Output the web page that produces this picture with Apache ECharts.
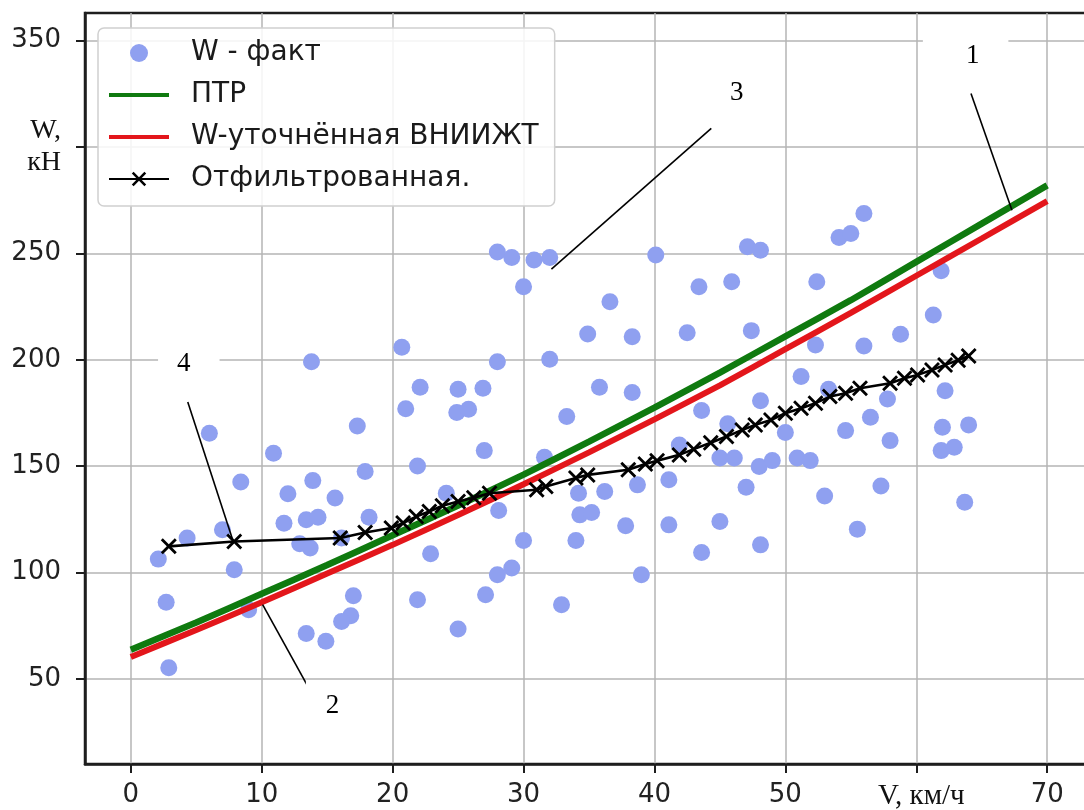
<!DOCTYPE html>
<html>
<head>
<meta charset="utf-8">
<script src="https://cdn.jsdelivr.net/npm/echarts@6/dist/echarts.min.js"></script>
<style>
  html, body { margin: 0; padding: 0; background: #ffffff; }
  #chart { width: 1084px; height: 810px; }
</style>
</head>
<body>
<div id="chart"></div>
<script>
// Measured resistance W (кН) against speed V (км/ч)
const speedFact = [
  13.8, 20.7, 6.0, 17.3, 10.9, 8.4, 13.9, 17.9, 12.0, 15.6, 11.7, 13.4, 14.3, 18.2, 7.0,
  4.3, 2.1, 7.9, 12.9, 13.7, 16.1, 2.7, 9.0, 17.0, 16.8, 16.1, 13.4, 14.9, 2.9,
  28.0, 29.1, 30.8, 32.0, 40.1, 30.0, 36.6, 43.4, 34.9, 38.3, 42.5, 28.0, 32.0, 22.1,
  25.0, 26.9, 21.0, 24.9, 25.8, 33.3, 35.8, 38.3, 43.6, 27.0, 21.9, 31.6, 24.1, 28.1,
  34.2, 36.2, 38.7, 41.1, 34.3, 35.2, 37.8, 41.1, 30.0, 34.0, 43.6, 22.9, 28.0, 29.1,
  39.0, 21.9, 27.1, 32.9, 25.0,
  56.0, 54.1, 55.0, 47.1, 48.1, 45.9, 52.4, 61.9, 47.4, 61.3, 52.3, 56.0, 58.8, 51.2,
  53.3, 48.1, 57.8, 62.2, 45.6, 50.0, 56.5, 54.6, 58.0, 62.0, 64.0, 61.9, 62.9, 41.9,
  45.0, 46.1, 48.0, 49.0, 50.9, 51.9, 47.0, 53.0, 57.3, 63.7, 45.0, 55.5, 48.1
];
const forceFact = [
  199.1, 205.9, 165.5, 168.9, 156.1, 142.5, 143.2, 147.5, 137.0, 135.0, 123.2, 124.8, 126.0, 126.0, 120.1,
  116.2, 106.3, 101.3, 113.5, 111.5, 116.2, 86.0, 82.5, 89.1, 79.7, 77.0, 71.3, 67.7, 55.2,
  250.7, 248.1, 246.9, 248.1, 249.2, 234.3, 227.3, 234.3, 212.1, 210.8, 212.7, 199.1, 200.2, 187.1,
  186.2, 186.6, 177.0, 175.2, 176.8, 173.3, 187.1, 184.6, 176.2, 157.3, 150.1, 154.2, 137.3, 129.2,
  137.3, 138.1, 141.2, 143.6, 127.1, 128.2, 122.0, 122.4, 115.1, 115.1, 109.4, 108.8, 99.0, 102.1,
  99.0, 87.2, 89.6, 84.9, 73.5,
  268.8, 257.5, 259.4, 253.1, 251.5, 236.7, 236.7, 241.8, 213.7, 221.0, 207.0, 206.5, 212.0, 192.1,
  186.2, 180.7, 181.6, 185.4, 169.9, 165.8, 173.0, 166.7, 162.0, 168.3, 169.4, 157.3, 158.9, 159.9,
  153.8, 153.8, 149.8, 152.6, 153.8, 152.6, 140.1, 136.0, 140.7, 133.0, 124.0, 120.4, 113.0
];

// Calculated curves
const speedCurve = [0, 5, 10, 15, 20, 25, 30, 35, 40, 45, 50, 55, 60, 65, 70];
const forcePTR = [63.7, 76.5, 90.0, 103.5, 117.5, 131.5, 146.0, 161.5, 177.5, 194.0, 211.0, 228.0, 246.0, 264.0, 282.0];
const forceVNIIZhT = [60.3, 73.0, 86.0, 99.5, 113.0, 127.0, 141.5, 156.5, 172.0, 188.0, 205.0, 222.0, 239.5, 257.0, 274.6];

// Filtered series
const speedFiltered = [
  2.9, 7.9, 16.0, 17.9, 19.9, 20.8, 21.8, 22.8, 23.8, 25.0, 26.2, 27.4, 31.0, 31.7, 34.0,
  34.9, 38.0, 39.3, 40.2, 41.9, 43.0, 44.3, 45.5, 46.7, 47.7, 48.9, 50.0, 51.2, 52.3, 53.4,
  54.6, 55.7, 58.0, 59.1, 60.1, 61.2, 62.2, 63.2, 64.0
];
const forceFiltered = [
  112.3, 114.6, 116.2, 118.8, 120.9, 123.3, 126.3, 128.7, 131.4, 133.4, 135.2, 137.3, 138.9, 140.4, 144.4,
  145.9, 148.3, 151.0, 152.5, 155.3, 158.0, 161.0, 163.9, 167.0, 169.4, 171.7, 174.9, 177.2, 179.6, 182.7,
  184.3, 186.6, 189.0, 191.3, 192.9, 195.2, 197.6, 199.8, 201.8
];

// Axis ticks and names
const xTicks = [0, 10, 20, 30, 40, 50, 60, 70];
const yTicks = [50, 100, 150, 200, 250, 300, 350];
const xName = 'V, км/ч';
const yName = ['W,', 'кН'];
const seriesNames = ['W - факт', 'ПТР', 'W-уточнённая ВНИИЖТ', 'Отфильтрованная.'];

// Numbered callouts: label centre, leader line start and end (in V, W units)
const calloutText = ['1', '3', '4', '2'];
const calloutLabel = [[63.77, 342.6], [46.28, 325.5], [4.43, 198.0], [15.72, 37.5]];
const calloutFrom = [[64.18, 325.2], [44.34, 308.8], [4.35, 180.2], [13.66, 45.0]];
const calloutTo = [[67.31, 270.3], [32.13, 242.6], [7.78, 115.4], [10.07, 84.9]];
const calloutPad = [[8, 29, 4, 43], [2, 2, 2, 2], [4, 29, 4, 19], [18, 28, 4, 20]];

const zip = (a, b) => a.map((v, i) => [v, b[i]]);

const crossPath = 'path://M2.5,0L10,7.5L17.5,0L20,2.5L12.5,10L20,17.5L17.5,20L10,12.5L2.5,20L0,17.5L7.5,10L0,2.5Z';
const barIcon = 'path://M0,0H60V4H0Z';
const tickFont = 'DejaVu Sans';
const serifFont = 'Liberation Serif';
const green = '#0f7a0f';
const red = '#e3161b';

const chart = echarts.init(document.getElementById('chart'), null, { renderer: 'canvas' });

chart.setOption({
  animation: false,
  backgroundColor: '#ffffff',
  grid: {
    left: 85, right: -9, top: 13, bottom: 46,
    show: true, borderColor: '#1e1e1e', borderWidth: 2.5,
    outerBoundsMode: 'none', containLabel: false
  },
  legend: {
    orient: 'vertical',
    left: 98, top: 28,
    data: [
      { name: seriesNames[0], icon: 'circle' },
      { name: seriesNames[1], icon: barIcon },
      { name: seriesNames[2], icon: barIcon },
      { name: seriesNames[3] }
    ],
    itemWidth: 60, itemHeight: 18, itemGap: 14,
    padding: [11, 16, 13, 10],
    backgroundColor: 'rgba(255,255,255,0.85)',
    borderColor: '#d0d0d0', borderWidth: 1.5, borderRadius: 6,
    textStyle: { fontFamily: tickFont, fontSize: 28, color: '#1a1a1a', lineHeight: 28, padding: [0, 0, 0, 17] }
  },
  xAxis: {
    type: 'value', min: -3.5, max: 73.5, splitNumber: 8,
    axisLine: { show: true, onZero: false, lineStyle: { color: '#1e1e1e', width: 2.5 } },
    axisTick: { show: true, length: 9, customValues: xTicks, lineStyle: { color: '#1e1e1e', width: 2 } },
    axisLabel: {
      customValues: xTicks, margin: 18,
      fontFamily: tickFont, fontSize: 26, color: '#222',
      formatter: v => v === 60 ? '{u|' + xName + '}' : String(v),
      rich: { u: { fontFamily: serifFont, fontSize: 29, color: '#111', padding: [0, 0, 0, 10] } }
    },
    splitLine: { show: true, lineStyle: { color: '#b4b4b4', width: 1.5 } }
  },
  yAxis: {
    type: 'value', min: 10, max: 363, splitNumber: 7,
    axisLine: { show: true, onZero: false, lineStyle: { color: '#1e1e1e', width: 2.5 } },
    axisTick: { show: true, length: 9, customValues: yTicks, lineStyle: { color: '#1e1e1e', width: 2 } },
    axisLabel: {
      customValues: yTicks, margin: 24,
      fontFamily: tickFont, fontSize: 26, color: '#222',
      formatter: v => v === 300 ? '{u|' + yName[0] + '}\n{u|' + yName[1] + '}' : String(v),
      rich: { u: { fontFamily: serifFont, fontSize: 28, color: '#111', lineHeight: 32, align: 'right' } }
    },
    splitLine: { show: true, lineStyle: { color: '#b4b4b4', width: 1.5 } }
  },
  series: [
    {
      name: seriesNames[0], type: 'scatter',
      data: zip(speedFact, forceFact),
      symbol: 'circle', symbolSize: 17,
      itemStyle: { color: '#8fa0f0', opacity: 1 }
    },
    {
      name: seriesNames[1], type: 'line',
      data: zip(speedCurve, forcePTR),
      symbol: 'none', smooth: 0.2,
      lineStyle: { color: green, width: 6.5 },
      itemStyle: { color: green }
    },
    {
      name: seriesNames[2], type: 'line',
      data: zip(speedCurve, forceVNIIZhT),
      symbol: 'none', smooth: 0.2,
      lineStyle: { color: red, width: 6 },
      itemStyle: { color: red }
    },
    {
      name: seriesNames[3], type: 'line',
      data: zip(speedFiltered, forceFiltered),
      symbol: crossPath, symbolSize: 16, showSymbol: true,
      lineStyle: { color: '#000', width: 2.6 },
      itemStyle: { color: '#000' }
    }
  ]
});

// Leader lines and numbers for the callouts
const toPx = p => chart.convertToPixel({ gridIndex: 0 }, p);
const elements = [];
calloutText.forEach((t, i) => {
  const a = toPx(calloutFrom[i]);
  const b = toPx(calloutTo[i]);
  const c = toPx(calloutLabel[i]);
  elements.push({
    type: 'line', z: 100,
    shape: { x1: a[0], y1: a[1], x2: b[0], y2: b[1] },
    style: { stroke: '#000', lineWidth: 1.6 }
  });
  elements.push({
    type: 'text', z: 101, x: c[0], y: c[1],
    style: {
      text: t, fontFamily: serifFont, fontSize: 27, fill: '#000',
      align: 'center', verticalAlign: 'middle',
      backgroundColor: '#ffffff', padding: calloutPad[i]
    }
  });
});
chart.setOption({ graphic: { elements } });
</script>
</body>
</html>
